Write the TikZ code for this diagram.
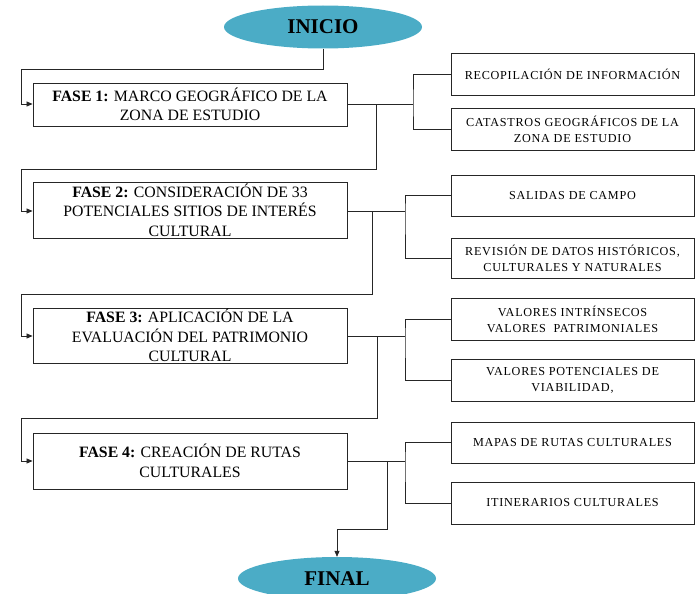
\documentclass[tikz,border=0pt]{standalone}
\usepackage{fontspec}
\setmainfont{Liberation Serif}
\newfontfamily\subfont[LetterSpace=6]{Liberation Serif}
\usetikzlibrary{arrows.meta,shapes.geometric}
\definecolor{ovalblue}{HTML}{4BACC6}
\begin{document}
\begin{tikzpicture}[x=1pt,y=-1pt,
  phase/.style={draw=black!85,line width=0.9pt,minimum width=314pt,inner sep=0pt,align=center,font=\fontsize{15.8}{19.5}\selectfont},
  sub/.style={draw=black!85,line width=0.9pt,minimum width=243pt,inner sep=0pt,align=center,font=\subfont\fontsize{12.2}{16}\selectfont},
  oval/.style={ellipse,fill=ovalblue,minimum width=198pt,minimum height=43pt,inner sep=0pt,font=\fontsize{21}{24}\selectfont\bfseries},
  conn/.style={line width=0.7pt,black!85},
  flow/.style={conn,-{Triangle[length=6pt,width=5pt]}}]
\useasboundingbox (0,0) rectangle (699,594);
\begin{scope}
\clip (0,0) rectangle (699,594);
\node[oval] (ini) at (323,27) {INICIO};
\node[oval] (fin) at (337,578.5) {FINAL};
\end{scope}
% phases
\node[phase,minimum height=43pt] (f1) at (190,104.5) {\textbf{FASE 1:} MARCO GEOGRÁFICO DE LA\\ZONA DE ESTUDIO};
\node[phase,minimum height=56pt] (f2) at (190,210) {\textbf{FASE 2:} CONSIDERACIÓN DE 33\\POTENCIALES SITIOS DE INTERÉS\\CULTURAL};
\node[phase,minimum height=55pt] (f3) at (190,335.5) {\textbf{FASE 3:} APLICACIÓN DE LA\\EVALUACIÓN DEL PATRIMONIO\\CULTURAL};
\node[phase,minimum height=56pt] (f4) at (190,461) {\textbf{FASE 4:} CREACIÓN DE RUTAS\\CULTURALES};
% sub boxes
\node[sub,minimum height=42pt] (r1a) at (572.5,74) {RECOPILACIÓN DE INFORMACIÓN};
\node[sub,minimum height=42pt] (r1b) at (572.5,129) {CATASTROS GEOGRÁFICOS DE LA\\ZONA DE ESTUDIO};
\node[sub,minimum height=41pt] (r2a) at (572.5,195.5) {SALIDAS DE CAMPO};
\node[sub,minimum height=40pt] (r2b) at (572.5,258) {REVISIÓN DE DATOS HISTÓRICOS,\\CULTURALES Y NATURALES};
\node[sub,minimum height=42pt] (r3a) at (572.5,319) {VALORES INTRÍNSECOS\\VALORES\ \ PATRIMONIALES};
\node[sub,minimum height=42pt] (r3b) at (572.5,380) {VALORES POTENCIALES DE\\VIABILIDAD,};
\node[sub,minimum height=41pt] (r4a) at (572.5,442.5) {MAPAS DE RUTAS CULTURALES};
\node[sub,minimum height=42pt] (r4b) at (572.5,503) {ITINERARIOS CULTURALES};
% junctions
\coordinate (j1) at (413,104);
\coordinate (j2) at (405,211);
\coordinate (j3) at (405,336);
\coordinate (j4) at (405,461);
\coordinate (d1) at (376,104);
\coordinate (d2) at (372,211);
\coordinate (d3) at (377,336);
\coordinate (d4) at (387,461);
\coordinate (a1) at (21,69);
\coordinate (a2) at (21,169);
\coordinate (a3) at (21,294);
\coordinate (a4) at (21,418);
\coordinate (a5) at (337,529);
% branch connectors
\draw[conn] (f1.east |- j1) -- (j1);
\draw[conn] (r1a.west) -| (j1) |- (r1b.west);
\draw[conn] (f2.east |- j2) -- (j2);
\draw[conn] (r2a.west) -| (j2) |- (r2b.west);
\draw[conn] (f3.east |- j3) -- (j3);
\draw[conn] (r3a.west) -| (j3) |- (r3b.west);
\draw[conn] (f4.east |- j4) -- (j4);
\draw[conn] (r4a.west) -| (j4) |- (r4b.west);
% flow connectors
\draw[flow] (ini.south) |- (a1) |- (f1.west |- d1);
\draw[flow] (d1) |- (a2) |- (f2.west |- d2);
\draw[flow] (d2) |- (a3) |- (f3.west |- d3);
\draw[flow] (d3) |- (a4) |- (f4.west |- d4);
\draw[flow] (d4) |- (a5) -- (fin.north);
\end{tikzpicture}
\end{document}
